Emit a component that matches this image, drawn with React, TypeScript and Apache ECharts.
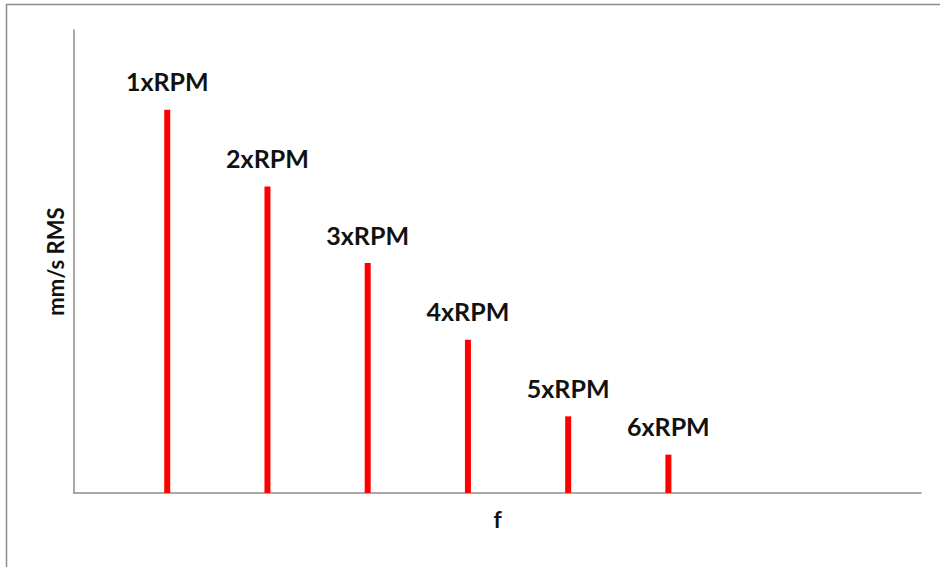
import React, { useEffect, useRef } from "react";
import * as echarts from "echarts";

const harmonics = [1, 2, 3, 4, 5, 6];
const amplitudes = [5.0, 4.0, 3.0, 2.0, 1.0, 0.5];
const peakLabels = ["1xRPM", "2xRPM", "3xRPM", "4xRPM", "5xRPM", "6xRPM"];
const xAxisTitle = "f";
const yAxisTitle = "mm/s RMS";

const FONT = "Lato, 'Open Sans', sans-serif";

export default function App() {
  const ref = useRef<HTMLDivElement>(null);
  useEffect(() => {
    if (!ref.current) return;
    const chart = echarts.init(ref.current, undefined, { renderer: "svg" });
    chart.setOption({
      animation: false,
      backgroundColor: "#ffffff",
      graphic: [
        {
          type: "rect",
          shape: { x: 6.5, y: 4.5, width: 960, height: 600 },
          style: { fill: "none", stroke: "#8c8c8c", lineWidth: 1.5 },
          silent: true,
        },
      ],
      grid: { left: 74, right: 19, top: 30, bottom: 74 },
      xAxis: {
        type: "value",
        min: 0.07,
        max: 8.52,
        name: xAxisTitle,
        nameLocation: "middle",
        nameGap: 14,
        nameTextStyle: { fontFamily: FONT, fontWeight: "bold", fontSize: 23, color: "#111" },
        axisLine: { show: true, lineStyle: { color: "#8c8c8c", width: 1.5 } },
        axisTick: { show: false },
        axisLabel: { show: false },
        splitLine: { show: false },
      },
      yAxis: {
        type: "value",
        min: 0,
        max: 6.04,
        name: yAxisTitle,
        nameLocation: "middle",
        nameGap: 8,
        nameRotate: 90,
        nameTextStyle: {
          fontFamily: FONT,
          fontWeight: "bold",
          fontSize: 22,
          color: "#111",
        },
        axisLine: { show: true, lineStyle: { color: "#8c8c8c", width: 1.5 } },
        axisTick: { show: false },
        axisLabel: { show: false },
        splitLine: { show: false },
      },
      series: [
        {
          type: "bar",
          barWidth: 6,
          itemStyle: { color: "#ff0000" },
          data: harmonics.map((h, i) => [h, amplitudes[i]]),
          label: {
            show: true,
            position: "top",
            distance: 16,
            formatter: (p: any) => peakLabels[p.dataIndex],
            fontFamily: FONT,
            fontWeight: "bold",
            fontSize: 25,
            color: "#111",
          },
        },
      ],
    });
    return () => chart.dispose();
  }, []);
  return (
    <div
      ref={ref}
      style={{ position: "absolute", left: 0, top: 0, width: 940, height: 567 }}
    />
  );
}
